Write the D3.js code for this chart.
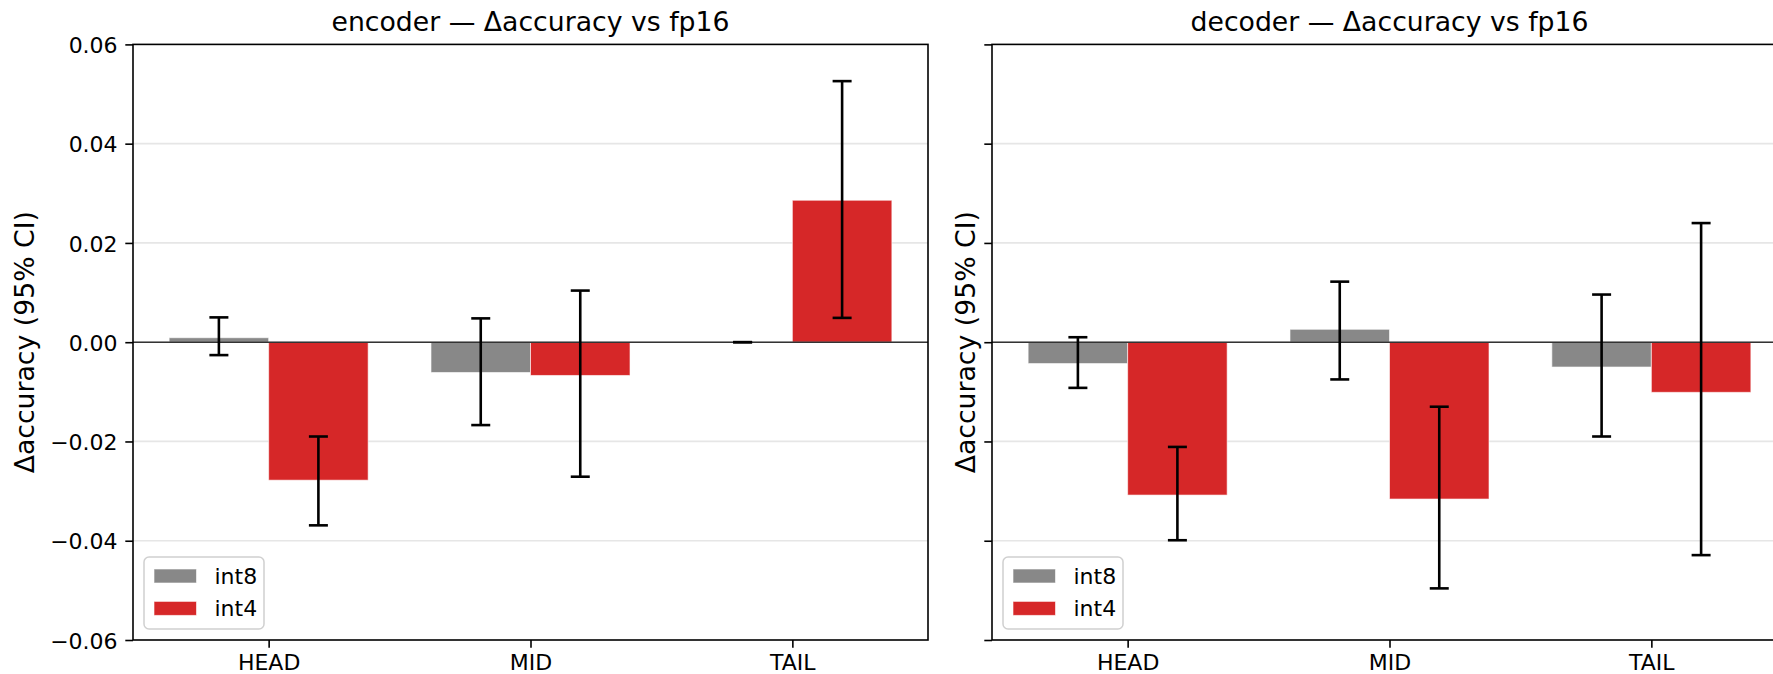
<!DOCTYPE html>
<html>
<head>
<meta charset="utf-8">
<script src="https://cdn.jsdelivr.net/npm/d3@7"></script>
<style>
  html, body { margin: 0; padding: 0; background: #fff; }
  svg { display: block; font-family: "DejaVu Sans", sans-serif; }
</style>
</head>
<body>
<div id="chart"></div>
<script>
// data
const categories = ['HEAD', 'MID', 'TAIL']
const seriesNames = ['int8', 'int4']
const seriesColors = ['#888888', '#d62728']
const yTicks = [-0.06, -0.04, -0.02, 0.00, 0.02, 0.04, 0.06]

const encoderInt8 = [0.0009, -0.0061, 0.0]
const encoderInt8Lo = [-0.0026, -0.0167, 0.0]
const encoderInt8Hi = [0.0050, 0.0048, 0.0]
const encoderInt4 = [-0.0278, -0.0067, 0.0286]
const encoderInt4Lo = [-0.0369, -0.0271, 0.0049]
const encoderInt4Hi = [-0.0190, 0.0104, 0.0526]

const decoderInt8 = [-0.0043, 0.0026, -0.0050]
const decoderInt8Lo = [-0.0092, -0.0075, -0.0190]
const decoderInt8Hi = [0.0010, 0.0122, 0.0096]
const decoderInt4 = [-0.0308, -0.0316, -0.0101]
const decoderInt4Lo = [-0.0399, -0.0496, -0.0429]
const decoderInt4Hi = [-0.0211, -0.0130, 0.0240]

const W = 1773, H = 674
const svg = d3.select('#chart').append('svg').attr('width', W).attr('height', H)

const barFrac = 0.38
const fs = 22

function rows(vals, lo, hi) {
  return categories.map((c, i) => ({cat: c, v: vals[i], lo: lo[i], hi: hi[i]}))
}

function drawPanel(left, title, series, showLabels, labelX) {
  const top = 44.4, bottom = 640, width = 795
  // matplotlib-like limits: bars +-0.38 plus 5% margin
  const x = d3.scalePoint().domain(categories).range([left, left + width]).padding(0.518)
  const y = d3.scaleLinear().domain([-0.06, 0.06]).range([bottom, top])
  const step = x.step()
  const bw = step * barFrac

  const g = svg.append('g')

  // grid
  g.selectAll('line.grid').data(yTicks.slice(1, -1)).enter().append('line')
    .attr('x1', left).attr('x2', left + width)
    .attr('y1', d => y(d)).attr('y2', d => y(d))
    .attr('stroke', '#e6e6e6').attr('stroke-width', 1.7)

  // bars
  series.forEach((s, si) => {
    const off = (si - 0.5) * bw
    g.selectAll('rect.b' + si).data(s).enter().append('rect')
      .attr('x', d => x(d.cat) + off - bw / 2)
      .attr('width', bw)
      .attr('y', d => y(Math.max(0, d.v)))
      .attr('height', d => Math.abs(y(d.v) - y(0)))
      .attr('fill', seriesColors[si])
      .attr('stroke', 'rgba(255,255,255,0.6)').attr('stroke-width', 1)
  })

  // zero line
  g.append('line').attr('x1', left).attr('x2', left + width)
    .attr('y1', y(0)).attr('y2', y(0))
    .attr('stroke', '#333').attr('stroke-width', 1.6)

  // error bars
  const cap = 9.5
  series.forEach((s, si) => {
    const off = (si - 0.5) * bw
    const eb = g.selectAll('g.e' + si).data(s).enter().append('g')
      .attr('stroke', '#000').attr('stroke-width', 2.6)
    eb.append('line').attr('x1', d => x(d.cat) + off).attr('x2', d => x(d.cat) + off)
      .attr('y1', d => y(d.lo)).attr('y2', d => y(d.hi))
    eb.append('line').attr('x1', d => x(d.cat) + off - cap).attr('x2', d => x(d.cat) + off + cap)
      .attr('y1', d => y(d.lo)).attr('y2', d => y(d.lo))
    eb.append('line').attr('x1', d => x(d.cat) + off - cap).attr('x2', d => x(d.cat) + off + cap)
      .attr('y1', d => y(d.hi)).attr('y2', d => y(d.hi))
  })

  // spines
  g.append('rect').attr('x', left).attr('y', top).attr('width', width).attr('height', bottom - top)
    .attr('fill', 'none').attr('stroke', '#000').attr('stroke-width', 1.6)

  // axes
  const ya = g.append('g').attr('transform', `translate(${left},0)`)
    .call(d3.axisLeft(y).tickValues(yTicks).tickSize(7.7).tickPadding(7.7)
      .tickFormat(showLabels ? d3.format('.2f') : () => ''))
  ya.select('.domain').remove()
  ya.selectAll('line').attr('stroke', '#000').attr('stroke-width', 1.6)
  ya.selectAll('text').attr('font-size', fs).attr('font-family', 'DejaVu Sans').attr('fill', '#000').attr('dy', '0.37em')

  const xa = g.append('g').attr('transform', `translate(0,${bottom})`)
    .call(d3.axisBottom(x).tickSize(7.7).tickPadding(6.5))
  xa.select('.domain').remove()
  xa.selectAll('line').attr('stroke', '#000').attr('stroke-width', 1.6)
  xa.selectAll('text').attr('font-size', fs).attr('font-family', 'DejaVu Sans').attr('fill', '#000')

  // title and y label
  g.append('text').attr('x', left + width / 2).attr('y', 31.2).attr('text-anchor', 'middle')
    .attr('font-size', 26.7).attr('fill', '#000').text(title)
  g.append('text').attr('transform', `translate(${labelX},${(top + bottom) / 2}) rotate(-90)`)
    .attr('text-anchor', 'middle').attr('font-size', 26.7).attr('fill', '#000')
    .text('Δaccuracy (95% CI)')

  // legend
  const lx = left + 11, lb = bottom - 11
  const lg = g.append('g')
  lg.append('rect').attr('x', lx).attr('y', lb - 72).attr('width', 120).attr('height', 72)
    .attr('rx', 5).attr('fill', 'rgba(255,255,255,0.8)').attr('stroke', '#d0d0d0').attr('stroke-width', 1.5)
  seriesNames.forEach((n, i) => {
    const cy = lb - 53 + i * 32.4
    lg.append('rect').attr('x', lx + 10).attr('y', cy - 7).attr('width', 42.5).attr('height', 14)
      .attr('fill', seriesColors[i]).attr('stroke', 'rgba(255,255,255,0.6)').attr('stroke-width', 1)
    lg.append('text').attr('x', lx + 70.5).attr('y', cy + 8).attr('font-size', fs).attr('fill', '#000').text(n)
  })
}

drawPanel(133, 'encoder — Δaccuracy vs fp16',
  [rows(encoderInt8, encoderInt8Lo, encoderInt8Hi), rows(encoderInt4, encoderInt4Lo, encoderInt4Hi)], true, 33.5)
drawPanel(992, 'decoder — Δaccuracy vs fp16',
  [rows(decoderInt8, decoderInt8Lo, decoderInt8Hi), rows(decoderInt4, decoderInt4Lo, decoderInt4Hi)], false, 974.5)
</script>
</body>
</html>
